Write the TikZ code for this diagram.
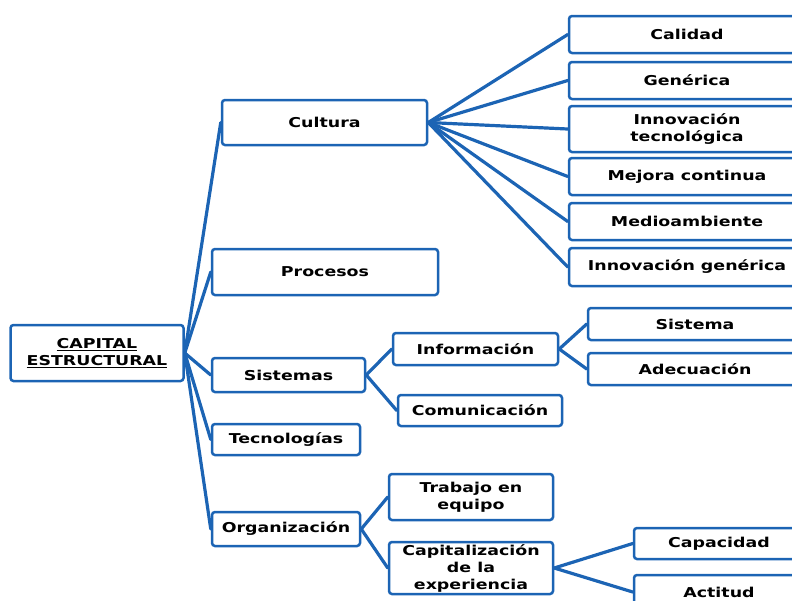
\documentclass[tikz,border=0pt]{standalone}
\usepackage{fontspec}
\setmainfont{DejaVu Sans}[FakeStretch=1.28]
\usepackage{tikz}
\usetikzlibrary{positioning}
\definecolor{azul}{RGB}{28,100,180}

\begin{document}
\begin{tikzpicture}[x=1pt, y=-1pt, % Capital estructural
    caja/.style={draw=azul, line width=2.5pt, rounded corners=3pt, fill=white,
      align=center, inner sep=1pt,
      font=\fontsize{13.6}{17}\selectfont\bfseries},
    linea/.style={draw=azul, line width=3.2pt, line cap=round}]

      \useasboundingbox (0, 0) rectangle (792, 600);
      \clip (0, 0) rectangle (792, 600);

      \node [caja, minimum width=173pt, minimum height=56pt] (cap) at (97, 353)
        {\underline{CAPITAL}\\\underline{ESTRUCTURAL}};

      \node [caja, minimum width=205pt, minimum height=45pt] (cul) at (324.5, 122.5) {Cultura};
      \node [caja, minimum width=226pt, minimum height=46pt] (pro) at (325, 272) {Procesos};
      \node [caja, minimum width=153pt, minimum height=34pt] (sis) at (288.5, 375) {Sistemas};
      \node [caja, minimum width=148pt, minimum height=31pt] (tec) at (286, 439.5) {Tecnologías};
      \node [caja, minimum width=148pt, minimum height=34pt] (org) at (286, 529) {Organización};

      \node [caja, minimum width=236pt, minimum height=37pt] (cal) at (687, 34.5) {Calidad};
      \node [caja, minimum width=236pt, minimum height=37pt] (gen) at (687, 80.5) {Genérica};
      \node [caja, minimum width=236pt, minimum height=46pt] (itec) at (687, 129) {Innovación\\tecnológica};
      \node [caja, minimum width=236pt, minimum height=37pt] (mej) at (687, 176.5) {Mejora continua};
      \node [caja, minimum width=236pt, minimum height=37pt] (med) at (687, 221.5) {Medioambiente};
      \node [caja, minimum width=236pt, minimum height=38pt] (igen) at (687, 267) {Innovación genérica};

      \node [caja, minimum width=165pt, minimum height=32pt] (inf) at (475.5, 349) {Información};
      \node [caja, minimum width=164pt, minimum height=31pt] (com) at (480, 410.5) {Comunicación};
      \node [caja, minimum width=214pt, minimum height=32pt] (sist) at (695, 324) {Sistema};
      \node [caja, minimum width=214pt, minimum height=32pt] (ade) at (695, 369) {Adecuación};

      \node [caja, minimum width=164pt, minimum height=46pt] (tra) at (471, 497) {Trabajo en\\equipo};
      \node [caja, minimum width=164pt, minimum height=52pt] (capi) at (471, 568)
        {Capitalización\\de la\\experiencia};
      \node [caja, minimum width=170pt, minimum height=31pt] (capa) at (719, 543.5) {Capacidad};
      \node [caja, minimum width=170pt, minimum height=34pt] (act) at (719, 592) {Actitud};

      \foreach \h in {cul, pro, sis, tec, org}
        \draw [linea] (cap.east) -- (\h.west);
      \foreach \h in {cal, gen, itec, mej, med, igen}
        \draw [linea] (cul.east) -- (\h.west);
      \draw [linea] (sis.east) -- (inf.west);
      \draw [linea] (sis.east) -- (com.west);
      \draw [linea] (inf.east) -- (sist.west);
      \draw [linea] (inf.east) -- (ade.west);
      \draw [linea] (org.east) -- (tra.west);
      \draw [linea] (org.east) -- (capi.west);
      \draw [linea] (capi.east) -- (capa.west);
      \draw [linea] (capi.east) -- (act.west);

    \end{tikzpicture}
\end{document}
